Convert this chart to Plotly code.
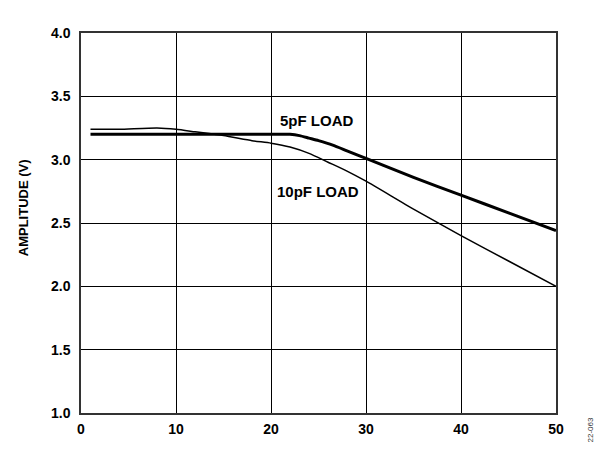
import plotly.graph_objects as go

# Data
freq_5pf = [1, 5, 10, 15, 20, 22, 23, 24, 25, 26.5, 28, 30, 35, 40, 45, 50]
amp_5pf = [3.20, 3.20, 3.20, 3.20, 3.20, 3.20, 3.19, 3.17, 3.15, 3.115, 3.07, 3.01, 2.86, 2.72, 2.58, 2.44]

freq_10pf = [1, 4, 8, 10, 12, 15, 18, 20, 22, 24, 26, 28, 30, 35, 40, 45, 50]
amp_10pf = [3.24, 3.24, 3.25, 3.24, 3.22, 3.19, 3.15, 3.13, 3.10, 3.05, 2.98, 2.91, 2.83, 2.61, 2.40, 2.20, 2.00]

x_ticks = [0, 10, 20, 30, 40, 50]
y_ticks = [1.0, 1.5, 2.0, 2.5, 3.0, 3.5, 4.0]
y_tick_text = ["1.0", "1.5", "2.0", "2.5", "3.0", "3.5", "4.0"]

FONT = "Liberation Sans, Arial, sans-serif"

fig = go.Figure()
fig.add_trace(go.Scatter(x=freq_10pf, y=amp_10pf, mode="lines",
                         line=dict(color="black", width=1.5, shape="spline", smoothing=0.6),
                         showlegend=False, hoverinfo="skip"))
fig.add_trace(go.Scatter(x=freq_5pf, y=amp_5pf, mode="lines",
                         line=dict(color="black", width=3, shape="spline", smoothing=0.6),
                         showlegend=False, hoverinfo="skip"))

axis_common = dict(showgrid=True, gridcolor="black", gridwidth=1,
                   showline=True, linecolor="#333333", linewidth=1.5, mirror=True,
                   zeroline=False, ticks="",
                   tickfont=dict(family=FONT, size=14, color="black", weight="bold"))

fig.update_xaxes(range=[0, 50], tickvals=x_ticks, ticklabelstandoff=2, **axis_common)
fig.update_yaxes(range=[1.0, 4.0], tickvals=y_ticks, ticktext=y_tick_text,
                 ticklabelstandoff=6, **axis_common)

annots = [
    dict(x=24.8, y=3.313, xref="x", yref="y", text="<b>5pF LOAD</b>", showarrow=False,
         font=dict(family=FONT, size=15, color="black")),
    dict(x=24.9, y=2.747, xref="x", yref="y", text="<b>10pF LOAD</b>", showarrow=False,
         font=dict(family=FONT, size=15, color="black")),
    dict(x=-0.122, y=0.539, xref="paper", yref="paper", text="<b>AMPLITUDE (V)</b>",
         xanchor="center", yanchor="middle",
         showarrow=False, textangle=-90, font=dict(family=FONT, size=13, color="black")),
    dict(x=0.5, y=-0.092, xref="paper", yref="paper", text="<b>FREQUENCY (MHz)</b>",
         showarrow=False, xanchor="center", yanchor="top",
         font=dict(family=FONT, size=13, color="black")),
    dict(x=1.0747, y=-0.0447, xref="paper", yref="paper", text="22-063",
         xanchor="center", yanchor="middle",
         showarrow=False, textangle=-90, font=dict(family=FONT, size=8, color="#333333")),
]

# The page places the figure 8px in from the top-left corner; margins compensate.
fig.update_layout(width=597, height=444,
                  margin=dict(l=73, r=48.5, t=25, b=39, pad=0),
                  paper_bgcolor="white", plot_bgcolor="white",
                  annotations=annots)

fig.write_html("out.html")
